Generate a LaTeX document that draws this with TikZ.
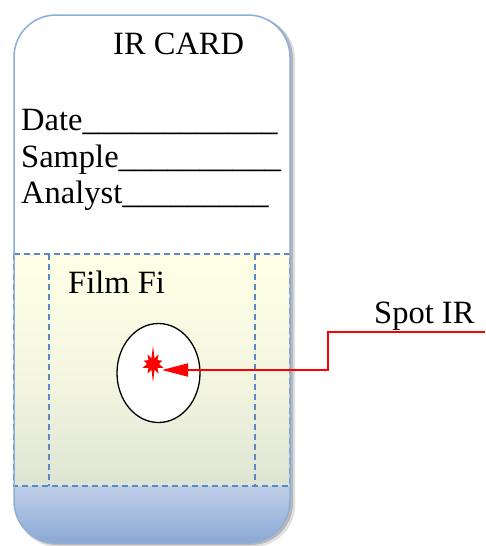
\documentclass[tikz,border=0pt]{standalone}
\usepackage{fontspec}
\setmainfont{Liberation Serif}
\usetikzlibrary{shapes.geometric,arrows.meta}
\definecolor{cardblue}{HTML}{8EAEDA}
\definecolor{dashblue}{HTML}{5A8AC6}
\definecolor{filmtop}{HTML}{FFFFE6}
\definecolor{filmbot}{HTML}{DEE4D4}
\definecolor{basetop}{HTML}{BFCFE8}
\definecolor{basebot}{HTML}{8BA8D4}
\tikzset{
  lbl/.style={anchor=base west, inner sep=0pt, font=\fontsize{32.5}{36}\selectfont},
  dashline/.style={draw=dashblue, line width=1.3pt, dash pattern=on 6pt off 4pt},
  cardedge/.style={draw=cardblue, line width=1.5pt, rounded corners=42pt},
  redline/.style={draw=red, line width=1.8pt},
}
\begin{document}
\begin{tikzpicture}[x=1pt,y=-1pt]
\useasboundingbox (0,0) rectangle (485,546);
% shadow
\fill[black, opacity=0.12, rounded corners=42pt] (16,17) rectangle (295,547);
\fill[black, opacity=0.18, rounded corners=42pt] (15,16) rectangle (293,545);
% card body
\begin{scope}
  \clip[rounded corners=42pt] (14,15) rectangle (290,543);
  \fill[white] (14,15) rectangle (290,543);
  \shade[top color=filmtop, bottom color=filmbot, middle color=filmtop!70!filmbot] (14,254) rectangle (290,486);
  \shade[top color=basetop, bottom color=basebot] (14,486) rectangle (290,543);
\end{scope}
% dashed film frame
\draw[dashline] (14,254) rectangle (290,486);
\draw[dashline] (49,254) -- (49,486);
\draw[dashline] (255,254) -- (255,486);
% card border
\draw[cardedge] (14,15) rectangle (290,543);
% texts
\node[lbl] (title) at (113,54) {IR CARD};
\node[lbl] (date) at (21,130) {Date\_\_\_\_\_\_\_\_\_\_\_\_};
\node[lbl] (sample) at (21,167) {Sample\_\_\_\_\_\_\_\_\_\_};
\node[lbl] (analyst) at (21,203) {Analyst\_\_\_\_\_\_\_\_\_};
\node[lbl] (film) at (68,293) {Film Fi};
\node[lbl] (spot) at (374,323) {Spot IR};
% sample disc
\node[draw=black, line width=1.3pt, fill=white, ellipse, minimum width=83pt, minimum height=99pt, inner sep=0pt] (disc) at (158.5,373) {};
% red spot (irregular starburst)
\begin{scope}[shift={(153,364)}]
\fill[red] (90:18)
  \foreach \a/\r in {105/6, 120/11, 140/6, 160/11, 180/6, 200/10, 220/6, 240/11, 255/6, 270/18, 285/6, 300/11, 320/6, 340/10, 0/6, 20/11, 40/6, 60/11, 75/6} {
    -- (\a:\r)
  } -- cycle;
\end{scope}
\coordinate (tip) at (162,370);
\coordinate (src) at (485,332);
\draw[redline, -{Triangle[length=26pt,width=13pt]}] (src) -- (328,332) |- (tip);
\end{tikzpicture}
\end{document}
